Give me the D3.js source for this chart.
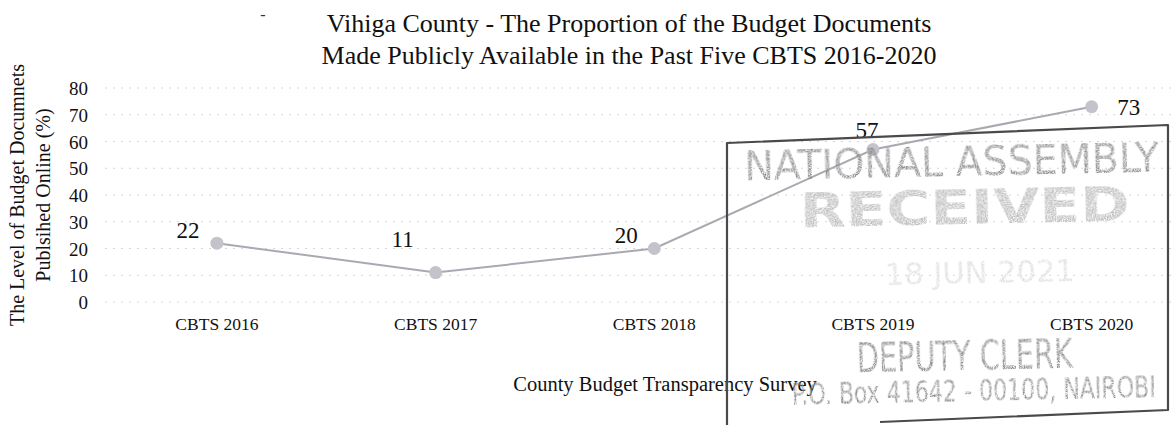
<!DOCTYPE html>
<html>
<head>
<meta charset="utf-8">
<script src="https://cdn.jsdelivr.net/npm/d3@7"></script>
<style>
  html, body { margin: 0; padding: 0; background: #fff; }
  svg { display: block; }
</style>
</head>
<body>
<svg id="chart" width="1172" height="425"></svg>
<script>
// Survey rounds and share of budget documents published online (%)
const categories = ["CBTS 2016", "CBTS 2017", "CBTS 2018", "CBTS 2019", "CBTS 2020"];
const values = [22, 11, 20, 57, 73];
const yTicks = [0, 10, 20, 30, 40, 50, 60, 70, 80];
const titleLines = [
  "Vihiga County - The Proportion of the Budget Documents",
  "Made Publicly Available in the Past Five CBTS 2016-2020"
];
const yTitleLines = ["The Level of Budget Documnets", "Publsihed Online (%)"];
const xTitle = "County Budget Transparency Survey";
const stampLines = ["NATIONAL ASSEMBLY", "RECEIVED", "18 JUN 2021", "DEPUTY CLERK", "P.O. Box 41642 - 00100, NAIROBI"];

const svg = d3.select("#chart");
const serif = "'Liberation Serif', 'Times New Roman', serif";

const x = d3.scaleBand().domain(categories).range([107.6, 1201]);
const y = d3.scaleLinear().domain([0, 80]).range([302, 88]);
const cx = d => x(d) + x.bandwidth() / 2;

// Grainy mask used for the faded ink of the stamp
const defs = svg.append("defs");
const grain = defs.append("filter").attr("id", "grain")
  .attr("x", "-5%").attr("y", "-5%").attr("width", "110%").attr("height", "110%");
grain.append("feTurbulence").attr("type", "fractalNoise")
  .attr("baseFrequency", 0.9).attr("numOctaves", 2).attr("seed", 4).attr("result", "noise");
grain.append("feColorMatrix").attr("in", "noise").attr("type", "matrix")
  .attr("values", "0 0 0 0 0  0 0 0 0 0  0 0 0 0 0  0 0 0 -2.6 1.9")
  .attr("result", "speckle");
grain.append("feComposite").attr("in", "SourceGraphic").attr("in2", "speckle").attr("operator", "in");

// Title
svg.append("g").selectAll("text").data(titleLines).join("text")
  .attr("x", 629).attr("y", (d, i) => 32 + i * 32)
  .attr("text-anchor", "middle")
  .attr("font-family", serif).attr("font-size", 26).attr("fill", "#111")
  .text(d => d);
svg.append("text").attr("x", 263).attr("y", 20).attr("text-anchor", "middle")
  .attr("font-family", serif).attr("font-size", 16).attr("fill", "#333").text("-");

// Horizontal gridlines
svg.append("g").selectAll("line").data(yTicks).join("line")
  .attr("x1", 105).attr("x2", 1172)
  .attr("y1", d => y(d)).attr("y2", d => y(d))
  .attr("stroke", "#d6d6da").attr("stroke-width", 1)
  .attr("stroke-dasharray", "2,6");

// Y axis labels
const yAxis = d3.axisLeft(y).tickValues(yTicks).tickSize(0).tickPadding(0).tickFormat(d3.format("d"));
const yG = svg.append("g").attr("transform", "translate(88,0)").call(yAxis);
yG.select(".domain").remove();
yG.selectAll("text").attr("font-family", serif).attr("font-size", 19).attr("fill", "#111").attr("dy", "0.35em");

// X axis labels
const xAxis = d3.axisBottom(x).tickSize(0).tickPadding(0);
const xG = svg.append("g").attr("transform", "translate(0,318)").call(xAxis);
xG.select(".domain").remove();
xG.selectAll("text").attr("font-family", serif).attr("font-size", 17.5).attr("fill", "#111").attr("dy", "0.71em");

// Axis titles
svg.append("g").selectAll("text").data(yTitleLines).join("text")
  .attr("transform", (d, i) => `translate(${24 + i * 26},195) rotate(-90)`)
  .attr("text-anchor", "middle")
  .attr("font-family", serif).attr("font-size", 20).attr("fill", "#111")
  .text(d => d);
svg.append("text").attr("x", 665).attr("y", 391).attr("text-anchor", "middle")
  .attr("font-family", serif).attr("font-size", 20.5).attr("fill", "#111").text(xTitle);

// Series line and markers
const line = d3.line().x((d, i) => cx(categories[i])).y(d => y(d));
svg.append("path").datum(values).attr("d", line)
  .attr("fill", "none").attr("stroke", "#a9a9b1").attr("stroke-width", 2);
svg.append("g").selectAll("circle").data(values).join("circle")
  .attr("cx", (d, i) => cx(categories[i])).attr("cy", d => y(d)).attr("r", 6.5)
  .attr("fill", "#c3c3cb");

// Data labels, nudged around each marker
const labelDx = [-29, -33, -28, -6, 37];
const labelDy = [-5, -26, -6, -12, 8];
svg.append("g").selectAll("text").data(values).join("text")
  .attr("x", (d, i) => cx(categories[i]) + labelDx[i])
  .attr("y", (d, i) => y(d) + labelDy[i])
  .attr("text-anchor", "middle")
  .attr("font-family", serif).attr("font-size", 23).attr("fill", "#111")
  .text(d => d);

// Received stamp over the chart
const stamp = svg.append("g");
stamp.append("path")
  .attr("d", "M727,430 L727,143 L1168,125 L1168,410 L880,422")
  .attr("fill", "none").attr("stroke", "#4a4a4a").attr("stroke-width", 2.2)
  .attr("stroke-linejoin", "round");
const stampSpec = [
  { x: 952, y: 176, size: 40, len: 415, weight: 400, color: "#8c8c8c" },
  { x: 965, y: 224, size: 48, len: 330, weight: 700, color: "#bdbdbd" },
  { x: 980, y: 283, size: 30, len: 190, weight: 400, color: "#dcdcdc" },
  { x: 965, y: 370, size: 40, len: 216, weight: 400, color: "#8a8a8a" },
  { x: 974, y: 401, size: 31, len: 364, weight: 400, color: "#8a8a8a" }
];
stamp.selectAll("text.stamp").data(stampLines).join("text")
  .attr("class", "stamp")
  .attr("x", (d, i) => stampSpec[i].x).attr("y", (d, i) => stampSpec[i].y)
  .attr("transform", (d, i) => `rotate(-1.2 ${stampSpec[i].x} ${stampSpec[i].y})`)
  .attr("text-anchor", "middle")
  .attr("font-family", "'DejaVu Sans Condensed', 'Liberation Sans Narrow', 'Liberation Sans', sans-serif")
  .attr("font-size", (d, i) => stampSpec[i].size)
  .attr("font-weight", (d, i) => stampSpec[i].weight)
  .attr("textLength", (d, i) => stampSpec[i].len)
  .attr("lengthAdjust", "spacingAndGlyphs")
  .attr("fill", (d, i) => stampSpec[i].color)
  .attr("filter", "url(#grain)")
  .text(d => d);
</script>
</body>
</html>
